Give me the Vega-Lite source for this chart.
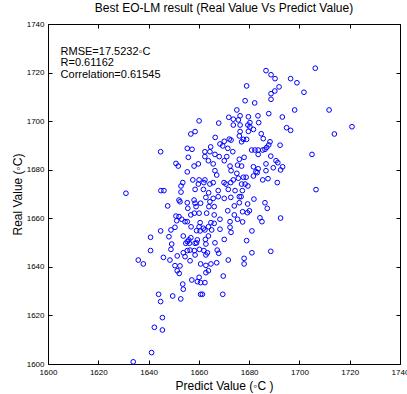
{
  "$schema": "https://vega.github.io/schema/vega-lite/v6.json",
  "width": 352,
  "height": 340,
  "autosize": {"type": "none"},
  "padding": {"left": 48, "top": 24, "right": 7, "bottom": 30},
  "background": "white",
  "config": {
    "font": "Liberation Sans",
    "view": {"stroke": "black", "strokeWidth": 1},
    "axis": {"tickColor": "black", "tickWidth": 1, "domain": false, "grid": false, "labelColor": "black", "titleColor": "black", "labelFont": "Liberation Sans", "titleFont": "Liberation Sans"}
  },
  "title": {"text": "Best EO-LM result (Real Value Vs Predict Value)", "fontSize": 12, "fontWeight": "normal", "font": "Liberation Sans", "color": "black", "offset": 5},
  "layer": [
    {
      "data": {"values": [
{"p":1679.0,"r":1714.5},{"p":1678.4,"r":1708.4},{"p":1675.1,"r":1704.6},{"p":1660.1,"r":1700.1},{"p":1667.9,"r":1699.2},{"p":1671.9,"r":1701.6},{"p":1673.7,"r":1700.8},{"p":1675.7,"r":1700.5},{"p":1676.4,"r":1702.2},{"p":1679.7,"r":1701.8},
{"p":1673.7,"r":1698.4},{"p":1676.4,"r":1698.4},{"p":1679.5,"r":1698.4},{"p":1658.5,"r":1695.7},{"p":1656.8,"r":1694.7},{"p":1666.5,"r":1693.3},{"p":1676.4,"r":1695.7},{"p":1676.1,"r":1693.9},{"p":1672.1,"r":1692.6},{"p":1670.1,"r":1691.7},
{"p":1672.8,"r":1692.2},{"p":1677.7,"r":1692.5},{"p":1679.0,"r":1692.5},{"p":1677.0,"r":1691.5},{"p":1668.4,"r":1690.6},{"p":1644.8,"r":1687.4},{"p":1655.4,"r":1688.8},{"p":1657.3,"r":1688.4},{"p":1664.7,"r":1689.4},{"p":1664.4,"r":1687.4},
{"p":1662.4,"r":1687.4},{"p":1671.5,"r":1688.8},{"p":1669.5,"r":1689.8},{"p":1673.5,"r":1687.4},{"p":1666.4,"r":1686.3},{"p":1662.4,"r":1685.4},{"p":1668.1,"r":1685.4},{"p":1671.1,"r":1685.4},{"p":1655.8,"r":1685.1},{"p":1678.0,"r":1685.1},
{"p":1676.1,"r":1684.3},{"p":1663.8,"r":1683.7},{"p":1650.9,"r":1682.6},{"p":1651.8,"r":1681.5},{"p":1658.1,"r":1681.5},{"p":1659.8,"r":1682.4},{"p":1665.7,"r":1682.4},{"p":1670.1,"r":1683.7},{"p":1672.4,"r":1681.5},{"p":1675.4,"r":1681.9},
{"p":1677.0,"r":1681.5},{"p":1686.7,"r":1720.8},{"p":1688.7,"r":1719.1},{"p":1690.3,"r":1717.5},{"p":1706.3,"r":1721.8},{"p":1696.5,"r":1717.5},{"p":1699.0,"r":1715.8},{"p":1691.9,"r":1714.1},{"p":1690.2,"r":1712.4},{"p":1688.7,"r":1711.3},
{"p":1701.8,"r":1711.9},{"p":1688.7,"r":1709.0},{"p":1682.2,"r":1707.5},{"p":1698.1,"r":1704.6},{"p":1711.8,"r":1704.6},{"p":1683.5,"r":1702.2},{"p":1687.8,"r":1703.1},{"p":1693.2,"r":1701.7},{"p":1680.3,"r":1699.4},{"p":1683.8,"r":1699.4},
{"p":1680.3,"r":1697.6},{"p":1681.7,"r":1696.6},{"p":1679.7,"r":1695.8},{"p":1694.9,"r":1697.3},{"p":1696.5,"r":1696.2},{"p":1720.9,"r":1697.7},{"p":1713.9,"r":1694.7},{"p":1684.8,"r":1694.8},{"p":1685.6,"r":1692.8},{"p":1688.3,"r":1691.5},
{"p":1687.8,"r":1690.2},{"p":1687.0,"r":1689.2},{"p":1686.3,"r":1688.4},{"p":1685.4,"r":1688.1},{"p":1683.6,"r":1688.1},{"p":1682.3,"r":1688.1},{"p":1681.0,"r":1688.1},{"p":1692.3,"r":1690.1},{"p":1683.6,"r":1686.3},{"p":1688.6,"r":1685.6},
{"p":1705.0,"r":1686.3},{"p":1690.7,"r":1683.7},{"p":1691.4,"r":1682.9},{"p":1686.7,"r":1682.4},{"p":1681.7,"r":1681.2},{"p":1693.3,"r":1681.2},{"p":1689.6,"r":1680.8},{"p":1683.6,"r":1680.4},{"p":1692.5,"r":1679.9},{"p":1682.7,"r":1679.2},
{"p":1683.2,"r":1678.8},{"p":1686.7,"r":1679.6},{"p":1681.7,"r":1677.4},{"p":1685.4,"r":1675.8},{"p":1687.5,"r":1676.3},{"p":1691.2,"r":1674.7},{"p":1679.5,"r":1673.3},{"p":1706.6,"r":1671.8},{"p":1676.8,"r":1668.9},{"p":1681.9,"r":1667.9},
{"p":1686.3,"r":1666.4},{"p":1687.2,"r":1664.1},{"p":1677.4,"r":1662.7},{"p":1680.1,"r":1663.1},{"p":1684.3,"r":1660.2},{"p":1685.1,"r":1658.6},{"p":1692.5,"r":1660.1},{"p":1681.1,"r":1654.8},{"p":1681.1,"r":1645.8},{"p":1688.6,"r":1646.4},
{"p":1655.4,"r":1679.1},{"p":1666.4,"r":1679.6},{"p":1667.1,"r":1677.8},{"p":1672.8,"r":1679.6},{"p":1675.1,"r":1678.5},{"p":1678.8,"r":1676.9},{"p":1653.6,"r":1674.7},{"p":1652.9,"r":1673.3},{"p":1657.6,"r":1675.8},{"p":1660.1,"r":1675.8},
{"p":1662.4,"r":1675.8},{"p":1659.8,"r":1674.1},{"p":1662.0,"r":1674.7},{"p":1664.4,"r":1674.1},{"p":1665.7,"r":1674.7},{"p":1670.0,"r":1674.7},{"p":1670.8,"r":1674.1},{"p":1672.7,"r":1674.7},{"p":1673.7,"r":1675.8},{"p":1675.7,"r":1676.5},
{"p":1677.7,"r":1676.9},{"p":1677.0,"r":1674.1},{"p":1678.4,"r":1674.1},{"p":1631.0,"r":1670.3},{"p":1644.9,"r":1671.4},{"p":1646.1,"r":1671.4},{"p":1652.9,"r":1670.8},{"p":1658.5,"r":1671.9},{"p":1661.8,"r":1671.9},{"p":1663.9,"r":1670.5},
{"p":1667.7,"r":1671.4},{"p":1671.7,"r":1671.9},{"p":1674.4,"r":1671.4},{"p":1677.3,"r":1671.4},{"p":1652.1,"r":1667.5},{"p":1652.5,"r":1666.8},{"p":1655.4,"r":1666.4},{"p":1658.1,"r":1667.5},{"p":1658.5,"r":1666.2},{"p":1658.9,"r":1664.8},
{"p":1660.7,"r":1666.2},{"p":1662.8,"r":1668.6},{"p":1664.4,"r":1666.8},{"p":1665.7,"r":1668.2},{"p":1667.7,"r":1668.9},{"p":1664.0,"r":1664.8},{"p":1666.1,"r":1664.8},{"p":1670.1,"r":1668.2},{"p":1672.7,"r":1668.6},{"p":1676.1,"r":1668.9},
{"p":1674.1,"r":1665.1},{"p":1676.1,"r":1666.4},{"p":1679.4,"r":1665.9},{"p":1647.6,"r":1665.1},{"p":1655.6,"r":1664.1},{"p":1671.5,"r":1663.1},{"p":1650.9,"r":1660.9},{"p":1652.1,"r":1660.7},{"p":1653.2,"r":1659.6},{"p":1651.2,"r":1659.0},
{"p":1655.4,"r":1658.6},{"p":1654.5,"r":1658.6},{"p":1658.2,"r":1662.1},{"p":1660.1,"r":1662.1},{"p":1656.8,"r":1661.4},{"p":1663.1,"r":1662.1},{"p":1666.1,"r":1661.4},{"p":1668.4,"r":1659.6},{"p":1664.8,"r":1658.2},{"p":1666.1,"r":1657.9},
{"p":1660.5,"r":1658.2},{"p":1674.1,"r":1661.4},{"p":1675.4,"r":1659.6},{"p":1672.4,"r":1658.6},{"p":1677.4,"r":1658.5},{"p":1679.3,"r":1662.3},{"p":1656.9,"r":1656.5},{"p":1660.1,"r":1656.5},{"p":1661.8,"r":1655.9},{"p":1663.8,"r":1656.5},
{"p":1659.1,"r":1654.9},{"p":1660.5,"r":1654.8},{"p":1662.4,"r":1655.2},{"p":1665.1,"r":1655.2},{"p":1668.4,"r":1655.5},{"p":1672.4,"r":1656.3},{"p":1672.8,"r":1654.2},{"p":1644.8,"r":1654.8},{"p":1648.9,"r":1655.2},{"p":1650.5,"r":1656.3},
{"p":1640.8,"r":1652.2},{"p":1648.1,"r":1652.4},{"p":1653.8,"r":1652.7},{"p":1656.8,"r":1652.0},{"p":1656.0,"r":1651.1},{"p":1655.4,"r":1650.4},{"p":1659.4,"r":1651.1},{"p":1662.6,"r":1651.3},{"p":1663.8,"r":1652.7},{"p":1666.4,"r":1649.9},
{"p":1670.1,"r":1651.3},{"p":1679.0,"r":1650.8},{"p":1649.2,"r":1649.4},{"p":1654.8,"r":1649.7},{"p":1656.2,"r":1649.7},{"p":1658.5,"r":1649.7},{"p":1659.1,"r":1649.9},{"p":1662.8,"r":1649.4},{"p":1648.9,"r":1647.2},{"p":1640.8,"r":1646.7},
{"p":1653.8,"r":1645.8},{"p":1655.4,"r":1646.7},{"p":1656.5,"r":1646.9},{"p":1658.2,"r":1646.7},{"p":1660.2,"r":1647.2},{"p":1662.0,"r":1646.7},{"p":1663.4,"r":1645.8},{"p":1667.3,"r":1646.9},{"p":1645.9,"r":1643.9},{"p":1648.5,"r":1642.8},
{"p":1651.4,"r":1644.5},{"p":1654.5,"r":1644.2},{"p":1658.5,"r":1644.9},{"p":1662.8,"r":1644.9},{"p":1667.9,"r":1645.6},{"p":1635.9,"r":1642.8},{"p":1637.9,"r":1641.2},{"p":1650.5,"r":1640.5},{"p":1652.5,"r":1640.4},{"p":1656.5,"r":1642.5},
{"p":1660.7,"r":1641.2},{"p":1664.8,"r":1641.2},{"p":1667.1,"r":1641.7},{"p":1671.7,"r":1642.8},{"p":1678.0,"r":1643.5},{"p":1678.0,"r":1641.2},{"p":1662.8,"r":1640.6},{"p":1651.4,"r":1638.4},{"p":1652.2,"r":1637.3},{"p":1663.8,"r":1638.4},
{"p":1662.8,"r":1637.6},{"p":1669.7,"r":1636.2},{"p":1660.1,"r":1635.7},{"p":1657.2,"r":1634.6},{"p":1659.4,"r":1633.9},{"p":1660.7,"r":1633.5},{"p":1662.4,"r":1633.5},{"p":1653.6,"r":1632.9},{"p":1653.8,"r":1630.8},{"p":1644.0,"r":1628.7},
{"p":1649.6,"r":1628.0},{"p":1652.8,"r":1626.8},{"p":1644.8,"r":1625.7},{"p":1660.7,"r":1628.7},{"p":1661.4,"r":1628.7},{"p":1669.5,"r":1628.7},{"p":1645.5,"r":1619.1},{"p":1642.3,"r":1615.1},{"p":1645.5,"r":1614.0},{"p":1641.2,"r":1604.7},
{"p":1633.9,"r":1600.9}
      ]},
      "mark": {"type": "point", "shape": "circle", "filled": false, "color": "#0000ff", "size": 22, "strokeWidth": 1, "opacity": 1},
      "encoding": {
        "x": {"field": "p", "type": "quantitative", "scale": {"domain": [1600, 1740], "nice": false, "zero": false},
              "axis": {"orient": "bottom", "values": [1600,1620,1640,1660,1680,1700,1720,1740], "format": "d", "labelFontSize": 8, "labelFlush": false, "labelOverlap": false, "tickSize": -4, "labelPadding": 8, "title": "Predict Value  (◦C )", "titleFontSize": 12, "titleFontWeight": "normal", "titlePadding": 4}},
        "y": {"field": "r", "type": "quantitative", "scale": {"domain": [1600, 1740], "nice": false, "zero": false},
              "axis": {"orient": "left", "values": [1600,1620,1640,1660,1680,1700,1720,1740], "format": "d", "labelFontSize": 8, "labelFlush": false, "labelOverlap": false, "tickSize": -4, "labelPadding": 8, "title": "Real Value  (◦C)", "titleFontSize": 12, "titleFontWeight": "normal", "titlePadding": 2}}
      }
    },
    {
      "data": {"values": [
        {"p": 1605, "r": 1727.3, "t": "RMSE=17.5232◦C"},
        {"p": 1605, "r": 1722.6, "t": "R=0.61162"},
        {"p": 1605, "r": 1717.9, "t": "Correlation=0.61545"}
      ]},
      "mark": {"type": "text", "align": "left", "baseline": "alphabetic", "fontSize": 11, "font": "Liberation Sans", "color": "black"},
      "encoding": {
        "x": {"field": "p", "type": "quantitative", "scale": {"domain": [1600, 1740], "nice": false, "zero": false},
              "axis": {"orient": "top", "values": [1600,1620,1640,1660,1680,1700,1720,1740], "labels": false, "tickSize": -4, "title": null}},
        "y": {"field": "r", "type": "quantitative", "scale": {"domain": [1600, 1740], "nice": false, "zero": false},
              "axis": {"orient": "right", "values": [1600,1620,1640,1660,1680,1700,1720,1740], "labels": false, "tickSize": -4, "title": null}},
        "text": {"field": "t"}
      }
    }
  ],
  "resolve": {"axis": {"x": "independent", "y": "independent"}}
}
